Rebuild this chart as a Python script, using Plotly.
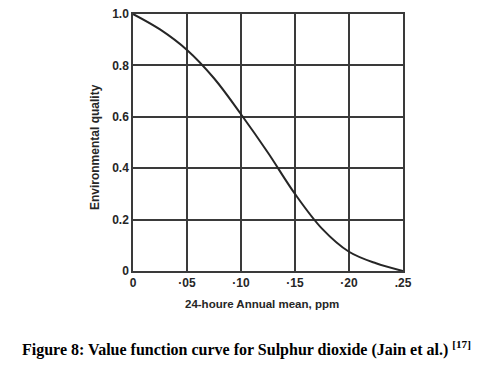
import plotly.graph_objects as go

x_ppm = [0, 0.025, 0.05, 0.075, 0.10, 0.125, 0.15, 0.175, 0.20, 0.225, 0.25]
quality = [1.0, 0.94, 0.86, 0.75, 0.61, 0.46, 0.30, 0.165, 0.075, 0.03, 0.0]

x_tickvals = [0, 0.05, 0.10, 0.15, 0.20, 0.25]
x_ticktext = ["0", "·05", "·10", "·15", "·20", ".25"]
y_tickvals = [0, 0.2, 0.4, 0.6, 0.8, 1.0]
y_ticktext = ["0", "0.2", "0.4", "0.6", "0.8", "1.0"]

grid_col = "#3a3a3a"
txt_col = "#262626"
tick_font = dict(size=12, family="Liberation Sans", color=txt_col, weight="bold")

fig = go.Figure()
fig.add_trace(go.Scatter(x=x_ppm, y=quality, mode="lines",
                         line=dict(color="#262626", width=2, shape="spline", smoothing=1.0),
                         hoverinfo="skip"))

# page body has an 8px default margin, so the figure is 478x364 drawn at (8, 8)
fig.update_layout(
    width=478, height=364,
    margin=dict(l=125, r=83, t=6, b=101, autoexpand=False),
    paper_bgcolor="white", plot_bgcolor="white",
    showlegend=False,
    font=dict(family="Liberation Sans", color=txt_col),
    xaxis=dict(range=[0, 0.25], tickvals=x_tickvals, ticktext=x_ticktext,
               showgrid=True, gridcolor=grid_col, gridwidth=1.5, automargin=False,
               zeroline=False, showline=True, linecolor=grid_col, linewidth=1.5, mirror=True,
               ticks="", ticklen=0, tickfont=tick_font, ticklabeloverflow="allow"),
    yaxis=dict(range=[0, 1.0], tickvals=y_tickvals, ticktext=y_ticktext,
               showgrid=True, gridcolor=grid_col, gridwidth=1.5, automargin=False,
               zeroline=False, showline=True, linecolor=grid_col, linewidth=1.5, mirror=True,
               ticks="", ticklen=0, tickfont=tick_font, ticklabeloverflow="allow"),
)

fig.add_annotation(
    text="<b>24-houre Annual mean, ppm</b>",
    xref="paper", yref="paper", x=0.478, y=-0.128, xanchor="center", yanchor="middle",
    showarrow=False, font=dict(family="Liberation Sans", size=11.5, color=txt_col))
fig.add_annotation(
    text="<b>Environmental quality</b>", textangle=-90,
    xref="paper", yref="paper", x=-0.141, y=0.482, xanchor="center", yanchor="middle",
    showarrow=False, font=dict(family="Liberation Sans", size=12, color=txt_col))

fig.add_annotation(
    text="<b>Figure 8: Value function curve for Sulphur dioxide (Jain et al.)</b> <sup><b>[17]</b></sup>",
    xref="paper", yref="paper", x=0.42, y=-0.303, xanchor="center", yanchor="middle",
    showarrow=False, font=dict(family="Liberation Serif", size=16, color="black"))

fig.write_html("out.html")
